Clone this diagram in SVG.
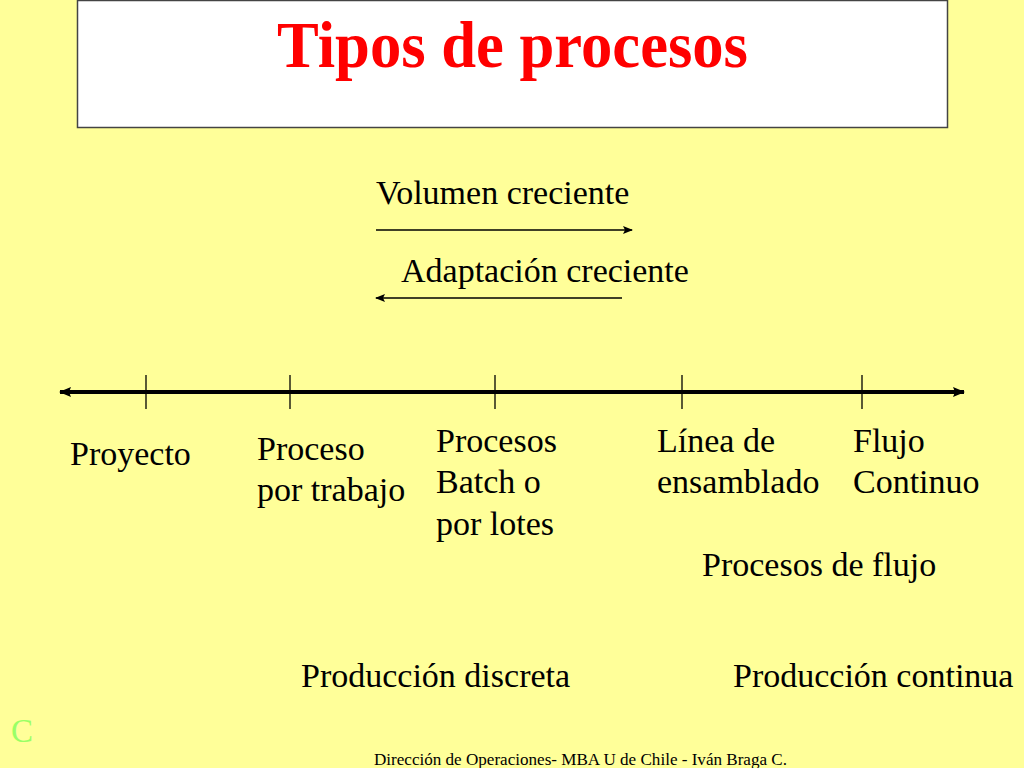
<svg xmlns="http://www.w3.org/2000/svg" width="1024" height="768" viewBox="0 0 1024 768">
<style>
.t{font-family:"Liberation Serif","Times New Roman",serif;font-size:34px;fill:#000}
.tick{stroke:#000;stroke-width:1.3}
</style>
<defs>
<marker id="ah" markerWidth="10" markerHeight="8" refX="9" refY="4" orient="auto-start-reverse" markerUnits="userSpaceOnUse">
<path d="M0,0 L10,4 L0,8 L2,4 Z" fill="#000"/>
</marker>
<marker id="ah2" markerWidth="12" markerHeight="10" refX="11" refY="5" orient="auto-start-reverse" markerUnits="userSpaceOnUse">
<path d="M0,0 L12,5 L0,10 L2,5 Z" fill="#000"/>
</marker>
</defs>
<rect width="1024" height="768" fill="#FFFF99"/>
<g id="title">
<rect x="77.5" y="0.5" width="870" height="127" fill="#fff" stroke="#444" stroke-width="1.5"/>
<text x="277" y="67" font-family="Liberation Serif,serif" font-weight="bold" font-size="66" fill="#FF0000" textLength="471" lengthAdjust="spacingAndGlyphs">Tipos de procesos</text>
</g>
<g id="volumen"><text class="t" x="376" y="204">Volumen creciente</text></g>
<g id="adaptacion"><text class="t" x="401" y="282">Adaptación creciente</text></g>
<g id="connectors">
<line x1="376" y1="230" x2="632" y2="230" stroke="#000" stroke-width="1.5" marker-end="url(#ah)"/>
<line x1="622" y1="298" x2="376" y2="298" stroke="#000" stroke-width="1.5" marker-end="url(#ah)"/>
<line x1="60" y1="392" x2="964" y2="392" stroke="#000" stroke-width="4" marker-start="url(#ah2)" marker-end="url(#ah2)"/>
<line class="tick" x1="146" y1="375" x2="146" y2="409"/>
<line class="tick" x1="290" y1="375" x2="290" y2="409"/>
<line class="tick" x1="495" y1="375" x2="495" y2="409"/>
<line class="tick" x1="682" y1="375" x2="682" y2="409"/>
<line class="tick" x1="862" y1="375" x2="862" y2="409"/>
</g>
<g id="proyecto"><text class="t" x="70" y="465">Proyecto</text></g>
<g id="proceso-trabajo"><text class="t" x="257" y="460">Proceso</text><text class="t" x="257" y="501">por trabajo</text></g>
<g id="batch"><text class="t" x="436" y="452">Procesos</text><text class="t" x="436" y="493">Batch o</text><text class="t" x="436" y="535">por lotes</text></g>
<g id="linea"><text class="t" x="657" y="452">Línea de</text><text class="t" x="657" y="493">ensamblado</text></g>
<g id="flujo"><text class="t" x="853" y="452">Flujo</text><text class="t" x="853" y="493">Continuo</text></g>
<g id="procesos-flujo"><text class="t" x="702" y="576">Procesos de flujo</text></g>
<g id="discreta"><text class="t" x="301" y="687">Producción discreta</text></g>
<g id="continua"><text class="t" x="733" y="687">Producción continua</text></g>
<g id="c-mark"><text x="11" y="742" font-family="Liberation Serif,serif" font-size="33" fill="#99FF66">C</text></g>
<g id="footer"><text x="374" y="765" font-family="Liberation Serif,serif" font-size="16" fill="#000" textLength="413" lengthAdjust="spacingAndGlyphs">Dirección de Operaciones- MBA U de Chile - Iván Braga C.</text></g>
</svg>
